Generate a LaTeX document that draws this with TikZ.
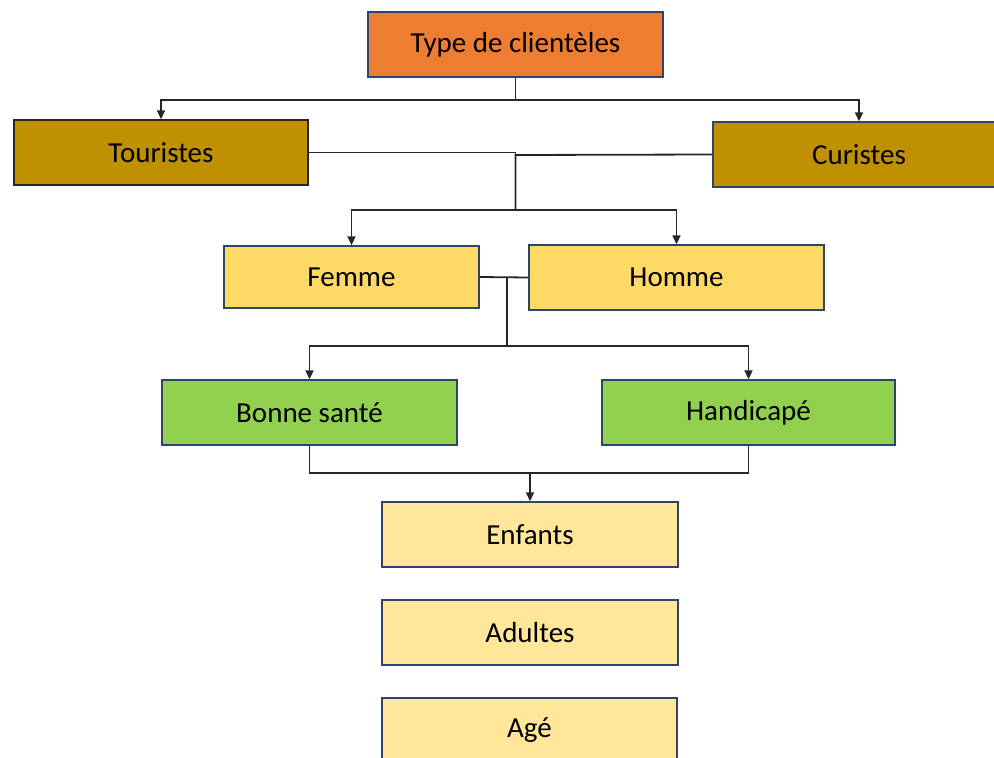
\documentclass[tikz,border=0pt]{standalone}
\usepackage{fontspec}
\setmainfont{Carlito}
\usetikzlibrary{arrows.meta}
\definecolor{bordercol}{HTML}{2F4468}
\definecolor{corange}{HTML}{ED7D31}
\definecolor{cgold}{HTML}{BF9000}
\definecolor{cyellow}{HTML}{FFD966}
\definecolor{cgreen}{HTML}{92D050}
\definecolor{clight}{HTML}{FFE699}
\begin{document}
\begin{tikzpicture}[x=1pt,y=-1pt,
 box/.style={draw=bordercol, line width=1.4pt, inner sep=0pt, minimum height=65pt, font=\fontsize{29}{33}\selectfont},
 conn/.style={draw=black!85, line width=1.8pt},
 arr/.style={conn, -{Triangle[length=9pt,width=8pt]}}]
\useasboundingbox (0,0) rectangle (994,758);
\clip (0,0) rectangle (994,758);
\node[box, fill=corange, minimum width=295pt] (type) at (515.5,44.5) {Type de clientèles};
\node[box, fill=cgold, draw=black!85, minimum width=294pt] (tour) at (161,152.5) {Touristes};
\node[box, fill=cgold, minimum width=292pt] (cur) at (859,154.5) {Curistes};
\node[box, fill=cyellow, minimum width=255pt, minimum height=62pt] (femme) at (351.5,277) {Femme};
\node[box, fill=cyellow, minimum width=295pt] (homme) at (676.5,277.5) {Homme};
\node[box, fill=cgreen, minimum width=295pt] (bonne) at (309.5,412.5) {Bonne santé};
\node[box, fill=cgreen, minimum width=293pt] (handi) at (748.5,412.5) {Handicapé};
\node[box, fill=clight, minimum width=296pt] (enf) at (530,534.5) {Enfants};
\node[box, fill=clight, minimum width=296pt] (adu) at (530,632.5) {Adultes};
\node[box, fill=clight, minimum width=295pt] (age) at (529.5,730.5) {Agé};
% level 1
\coordinate (j1) at (515.5,100);
\draw[conn] (type.south) -- (j1);
\draw[arr] (j1) -| (tour.north);
\draw[arr] (j1) -| (cur.north);
% level 2
\coordinate (j2) at (515.5,155);
\coordinate (j3) at (515.5,210);
\draw[conn] (tour.east) -- (tour.east -| j2) -- (j2);
\draw[conn] (cur.west) -- (j2) -- (j3);
\draw[arr] (j3) -| (femme.north);
\draw[arr] (j3) -| (homme.north);
% level 3
\coordinate (j4) at (507,277);
\coordinate (j5) at (507,346);
\draw[conn] (femme.east) -- (homme.west);
\draw[conn] (j4) -- (j5);
\draw[arr] (j5) -| (bonne.north);
\draw[arr] (j5) -| (handi.north);
% level 4
\coordinate (j6) at (530,473);
\draw[conn] (bonne.south) |- (j6) -| (handi.south);
\draw[arr] (j6) -- (enf.north);
\end{tikzpicture}
\end{document}
